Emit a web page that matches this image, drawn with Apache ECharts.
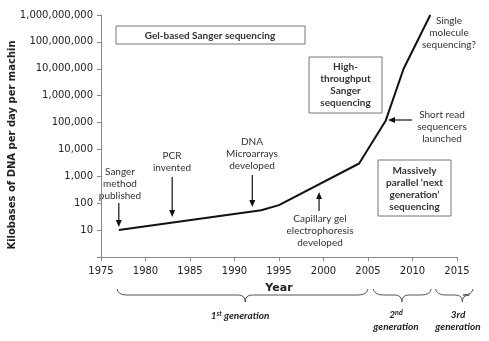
<!DOCTYPE html>
<html><head><meta charset="utf-8">
<script src="https://cdn.jsdelivr.net/npm/echarts@6/dist/echarts.min.js"></script>
<style>html,body{margin:0;padding:0;background:#fff}#c{width:489px;height:341px}</style>
</head><body><div id="c"></div>
<script>
// ---- data ----
const years = [1977, 1993, 1995, 2004, 2007, 2009, 2012];
const kbPerDay = [10, 55, 85, 3000, 120000, 10000000, 1000000000];
const xTickValues = [1975, 1980, 1985, 1990, 1995, 2000, 2005, 2010, 2015];
const yTickLabels = ['10', '100', '1,000', '10,000', '100,000', '1,000,000', '10,000,000', '100,000,000', '1,000,000,000'];
const yAxisTitle = 'Kilobases of DNA per day per machin';
const xAxisTitle = 'Year';
const eventNotes = ['Sanger\nmethod\npublished', 'PCR\ninvented', 'DNA\nMicroarrays\ndeveloped', 'Capillary gel\nelectrophoresis\ndeveloped', 'Short read\nsequencers\nlaunched', 'Single\nmolecule\nsequencing?'];
const eraBoxes = ['Gel-based Sanger sequencing', 'High-\nthroughput\nSanger\nsequencing', 'Massively\nparallel \u2018next\ngeneration\u2019\nsequencing'];

const chart = echarts.init(document.getElementById('c'), null, {renderer: 'canvas'});
const FONT = 'Lato, "Open Sans", sans-serif';
const AXF = '"DejaVu Sans", Verdana, sans-serif';

chart.setOption({
  animation: false,
  backgroundColor: '#fff',
  grid: {left: 101, right: 32, top: 15, bottom: 84, containLabel: false},
  xAxis: {
    type: 'value', min: 1975, max: 2015, interval: 5,
    axisLine: {lineStyle: {color: '#888', width: 1}},
    axisTick: {show: true, length: 4, lineStyle: {color: '#888'}},
    axisLabel: {color: '#222', fontFamily: AXF, fontSize: 10, margin: 9,
      formatter: v => xTickValues.includes(v) ? String(v) : ''},
    splitLine: {show: false}
  },
  yAxis: {
    type: 'log', logBase: 10, min: 1, max: 1e9,
    axisLine: {show: true, lineStyle: {color: '#888', width: 1}},
    axisTick: {show: true, length: 4, lineStyle: {color: '#888'}},
    axisLabel: {color: '#222', fontFamily: AXF, fontSize: 10, margin: 8,
      formatter: v => { const i = Math.round(Math.log10(v)) - 1; return i >= 0 ? yTickLabels[i] : ''; }},
    splitLine: {show: false}
  },
  series: [{
    type: 'line', data: years.map((y, i) => [y, kbPerDay[i]]),
    symbol: 'none', lineStyle: {color: '#111', width: 2}, smooth: false
  }]
});

function arrow(x1, y1, x2, y2) {
  const dx = x2 - x1, dy = y2 - y1, L = Math.hypot(dx, dy), ux = dx / L, uy = dy / L;
  const hl = 7, hw = 3;
  const bx = x2 - ux * hl, by = y2 - uy * hl;
  return [
    {type: 'line', shape: {x1, y1, x2: bx, y2: by}, style: {stroke: '#111', lineWidth: 1.2}},
    {type: 'polygon', shape: {points: [[x2, y2], [bx - uy * hw, by + ux * hw], [bx + uy * hw, by - ux * hw]]}, style: {fill: '#111'}}
  ];
}
function note(text, x, y, bold) {
  return {type: 'text', x, y, style: {text, font: (bold ? 'bold ' : '') + '10px ' + FONT, fill: '#333',
    textAlign: 'center', textVerticalAlign: 'middle', lineHeight: 12}};
}
function box(x1, y1, x2, y2) {
  return {type: 'rect', shape: {x: x1, y: y1, width: x2 - x1, height: y2 - y1}, style: {fill: '#fff', stroke: '#777', lineWidth: 1}};
}
function brace(xl, xr, xt, top) {
  const m = top + 6, tip = top + 13;
  const st = {stroke: '#555', lineWidth: 1, fill: null};
  const bz = (x1, y1, cx, cy, x2, y2) => ({type: 'bezierCurve', shape: {x1, y1, x2, y2, cpx1: cx, cpy1: cy}, style: st});
  const ln = (x1, y1, x2, y2) => ({type: 'line', shape: {x1, y1, x2, y2}, style: st});
  return [
    bz(xl, top, xl + 1, m, xl + 10, m), ln(xl + 10, m, xt - 7, m),
    bz(xt - 7, m, xt, m, xt, tip), bz(xt, tip, xt, m, xt + 7, m),
    ln(xt + 7, m, xr - 10, m), bz(xr - 10, m, xr - 1, m, xr, top)
  ];
}
const P = (yr, v) => chart.convertToPixel({gridIndex: 0}, [yr, v]);
const xs = yr => P(yr, 10)[0];

const g = [];
g.push(box(116, 26, 305, 44), note(eraBoxes[0], 210, 35.5, true));
g.push(box(309, 57, 382, 113), note(eraBoxes[1], 345.5, 85, true));
g.push(box(378, 160, 451, 216), note(eraBoxes[2], 414.5, 188.5, true));
g.push(note(eventNotes[0], 120, 184));
g.push(note(eventNotes[1], 172, 162));
g.push(note(eventNotes[2], 252, 154));
g.push(note(eventNotes[3], 320, 231));
g.push(note(eventNotes[4], 442, 127));
g.push(note(eventNotes[5], 449, 33));
g.push(...arrow(xs(1977), 203, xs(1977), 227));
g.push(...arrow(xs(1983), 177, xs(1983), 217));
g.push(...arrow(xs(1992), 175, xs(1992), 207));
g.push(...arrow(xs(1999.5), 211, xs(1999.5), 192));
g.push(...arrow(412, 120, 388, 120));
g.push(...brace(xs(1976.8), xs(2005), xs(1991.2), 289));
g.push(...brace(xs(2005.6), xs(2012.1), xs(2008.8), 289));
g.push(...brace(xs(2012.6), xs(2016.8), xs(2015.6), 289));
g.push({type: 'text', x: 240, y: 316, style: {text: '{b|1}{s|st}{b| generation}', textAlign: 'center', textVerticalAlign: 'middle',
  rich: {b: {font: 'italic bold 10px ' + FONT, fill: '#222'}, s: {font: 'italic bold 7px ' + FONT, fill: '#222', padding: [0, 0, 5, 0]}}}});
g.push({type: 'text', x: 396, y: 321, style: {text: '{b|2}{s|nd}\n{b|generation}', textAlign: 'center', textVerticalAlign: 'middle',
  rich: {b: {font: 'italic bold 10px ' + FONT, fill: '#222', lineHeight: 12}, s: {font: 'italic bold 7px ' + FONT, fill: '#222', lineHeight: 12, padding: [0, 0, 5, 0]}}}});
g.push({type: 'text', x: 458, y: 321, style: {text: '3rd\ngeneration', font: 'italic bold 10px ' + FONT, fill: '#222', textAlign: 'center', textVerticalAlign: 'middle', lineHeight: 12}});
g.push({type: 'text', x: 279, y: 288, style: {text: xAxisTitle, font: 'bold 11px ' + AXF, fill: '#222', textAlign: 'center', textVerticalAlign: 'middle'}});
g.push({type: 'text', x: 12, y: 145, rotation: Math.PI / 2, style: {text: yAxisTitle, font: 'bold 10px ' + AXF, fill: '#222', textAlign: 'center', textVerticalAlign: 'middle'}});
chart.setOption({graphic: {elements: g}});
</script></body></html>
